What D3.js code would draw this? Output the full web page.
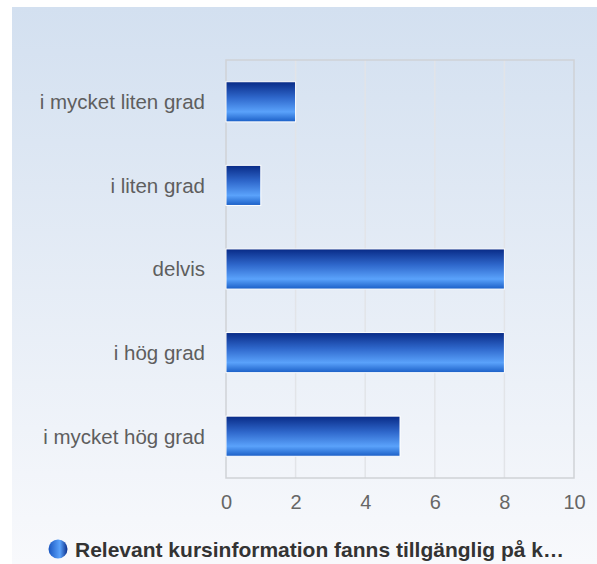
<!DOCTYPE html>
<html><head><meta charset="utf-8">
<script src="https://cdn.jsdelivr.net/npm/d3@7"></script>
<style>html,body{margin:0;padding:0;background:#fff;}svg{display:block;font-family:Arial,"Liberation Sans",sans-serif;}</style>
</head><body>
<svg id="c" width="597" height="564"></svg>
<script>
const categories = ["i mycket liten grad","i liten grad","delvis","i hög grad","i mycket hög grad"];
const values = [2,1,8,8,5];
const tickValues = [0,2,4,6,8,10];
const seriesName = "Relevant kursinformation fanns tillgänglig på k…";

(function(){
const svg = d3.select("#c");
const defs = svg.append("defs");
const bg = defs.append("linearGradient").attr("id","bg").attr("x1",0).attr("y1",0).attr("x2",0).attr("y2",1);
bg.append("stop").attr("offset","0%").attr("stop-color","#d3e0f0");
bg.append("stop").attr("offset","100%").attr("stop-color","#f8f9fc");
const bar = defs.append("linearGradient").attr("id","bar").attr("x1",0).attr("y1",0).attr("x2",0).attr("y2",1);
bar.append("stop").attr("offset","0%").attr("stop-color","#082a86");
bar.append("stop").attr("offset","40%").attr("stop-color","#2f68cc");
bar.append("stop").attr("offset","75%").attr("stop-color","#5aa2fb");
bar.append("stop").attr("offset","100%").attr("stop-color","#1a5ec6");
const leg = defs.append("linearGradient").attr("id","leg").attr("x1",0).attr("y1",0).attr("x2",1).attr("y2",0);
leg.append("stop").attr("offset","0%").attr("stop-color","#1a56c0");
leg.append("stop").attr("offset","60%").attr("stop-color","#5aa2fb");
leg.append("stop").attr("offset","100%").attr("stop-color","#0a2d8a");

svg.append("rect").attr("x",12).attr("y",7).attr("width",585).attr("height",557).attr("fill","url(#bg)");

const pl=226, pr=574, pt=60, pb=478;
const x = d3.scaleLinear().domain([0,10]).range([pl,pr]);
const y = d3.scaleBand().domain(categories).range([pt,pb]).paddingInner(0.52).paddingOuter(0.26);

svg.append("g").selectAll("line").data(tickValues.slice(1,-1)).join("line")
  .attr("x1",d=>x(d)).attr("x2",d=>x(d)).attr("y1",pt).attr("y2",pb)
  .attr("stroke","#e2e4e8").attr("stroke-width",1.5);
svg.append("rect").attr("x",pl).attr("y",pt).attr("width",pr-pl).attr("height",pb-pt)
  .attr("fill","none").attr("stroke","#cfd2d6").attr("stroke-width",1.5);

svg.append("g").selectAll("rect").data(categories).join("rect")
  .attr("x",x(0)).attr("y",d=>y(d)).attr("width",(d,i)=>x(values[i])-x(0)).attr("height",y.bandwidth())
  .attr("fill","url(#bar)").attr("stroke","#ffffff").attr("stroke-width",1);

const xa = svg.append("g").attr("transform",`translate(0,${pb})`)
  .call(d3.axisBottom(x).tickValues(tickValues).tickSize(0).tickPadding(17));
xa.select(".domain").remove();
xa.selectAll("text").attr("font-size",20).attr("fill","#666").attr("font-family","Arial,'Liberation Sans',sans-serif");

const ya = svg.append("g").attr("transform",`translate(${pl},0)`)
  .call(d3.axisLeft(y).tickSize(0).tickPadding(21));
ya.select(".domain").remove();
ya.selectAll("text").attr("font-size",20.5).attr("fill","#5e5e5e").attr("dy","0.36em").attr("font-family","Arial,'Liberation Sans',sans-serif");

svg.append("circle").attr("cx",58).attr("cy",549).attr("r",9.5).attr("fill","url(#leg)");
svg.append("text").attr("x",75).attr("y",557).attr("font-size",21).attr("font-weight","bold").attr("fill","#333").text(seriesName);
})();
</script>
</body></html>
